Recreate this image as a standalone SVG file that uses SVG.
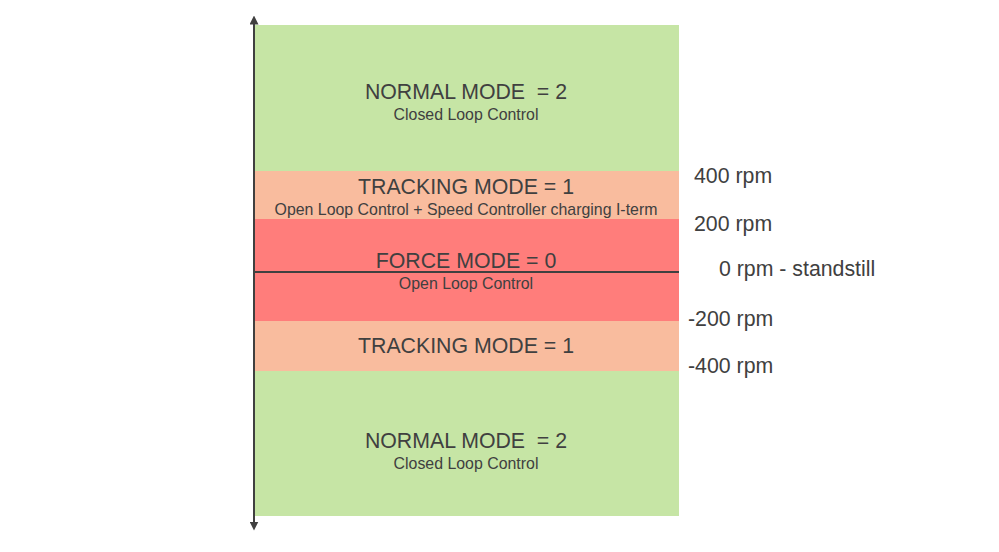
<svg xmlns="http://www.w3.org/2000/svg" width="999" height="552" viewBox="0 0 999 552">
<style>
text{font-family:"Liberation Sans",Arial,sans-serif;fill:#404040;white-space:pre}
.t{font-size:21.3px;text-anchor:middle}
.s{font-size:15.9px;text-anchor:middle}
.r{font-size:21.3px}
.green{fill:#c6e5a5}
.track{fill:#f9bc9e}
.force{fill:#ff7d7b}
</style>
<defs>
<marker id="ah" viewBox="0 0 10 10" refX="5" refY="5" markerWidth="9" markerHeight="9" orient="auto-start-reverse" markerUnits="userSpaceOnUse">
<path d="M0,0 L10,5 L0,10 Z" fill="#404040"/>
</marker>
</defs>
<g id="normal-top"><rect class="green" x="254" y="25" width="425" height="146"/>
<text class="t" x="466" y="99" xml:space="preserve">NORMAL MODE  = 2</text><text class="s" x="466" y="120">Closed Loop Control</text></g>
<g id="tracking-top"><rect class="track" x="254" y="171" width="425" height="48"/>
<text class="t" x="466" y="194">TRACKING MODE = 1</text><text class="s" x="466" y="215">Open Loop Control + Speed Controller charging I-term</text></g>
<g id="force"><rect class="force" x="254" y="219" width="425" height="102"/>
<text class="t" x="466" y="268">FORCE MODE = 0</text><text class="s" x="466" y="289">Open Loop Control</text></g>
<g id="tracking-bottom"><rect class="track" x="254" y="321" width="425" height="50"/>
<text class="t" x="466" y="353">TRACKING MODE = 1</text></g>
<g id="normal-bottom"><rect class="green" x="254" y="371" width="425" height="145"/>
<text class="t" x="466" y="448" xml:space="preserve">NORMAL MODE  = 2</text><text class="s" x="466" y="469">Closed Loop Control</text></g>
<g id="connectors">
<line x1="254" y1="20" x2="254" y2="526" stroke="#404040" stroke-width="2" marker-start="url(#ah)" marker-end="url(#ah)"/>
<line x1="254" y1="272" x2="679" y2="272" stroke="#404040" stroke-width="2"/>
</g>
<g id="labels">
<text class="r" x="694" y="183">400 rpm</text>
<text class="r" x="694" y="231">200 rpm</text>
<text class="r" x="719" y="276">0 rpm - standstill</text>
<text class="r" x="688" y="326">-200 rpm</text>
<text class="r" x="688" y="373">-400 rpm</text>
</g>
</svg>
